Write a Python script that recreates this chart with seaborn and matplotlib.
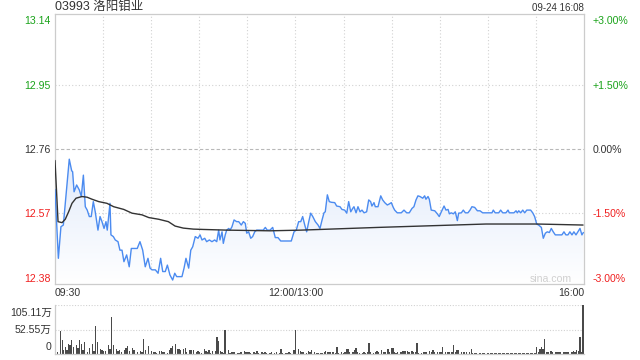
import numpy as np
import pandas as pd
import matplotlib
matplotlib.use("Agg")
import matplotlib.pyplot as plt
import seaborn as sns
from matplotlib.colors import LinearSegmentedColormap

# ---------------- data ----------------
title_text = "03993 洛阳钼业"
stamp_text = "09-24 16:08"
prev_close = 12.76

price_ticks = [13.14, 12.95, 12.76, 12.57, 12.38]
pct_labels = ["+3.00%", "+1.50%", "0.00%", "-1.50%", "-3.00%"]
x_tick_labels = ["09:30", "12:00/13:00", "16:00"]
vol_tick_labels = ["105.11万", "52.55万", "0"]
vol_ticks = [105.11, 52.55, 0]

# trading minutes since 09:30 (lunch break removed)
price_minutes = [0, 2.1, 3.7, 5.2, 8.9, 10.4, 11.0, 11.9, 13.5, 15.2, 16.4, 17.7, 18.9, 20.1, 21.4,
                 22.6, 23.9, 25.1, 26.8, 28.1, 29.3, 30.6, 31.8, 32.6, 34.3, 34.9, 36.4, 37.6, 39.3,
                 40.5, 41.8, 43.0, 44.7, 46.3, 47.6, 51.3, 53.0, 54.7, 56.3, 58.0, 59.3, 60.5, 62.6,
                 64.3, 65.9, 67.2, 68.8, 70.1, 71.7, 73.4, 74.7, 75.9, 79.2, 80.5, 81.7, 83.4, 84.7,
                 85.9, 87.5, 89.2, 90.5, 91.7, 93.4, 94.6, 96.3, 97.9, 99.6, 100.9, 102.1, 102.9,
                 104.2, 105.0, 106.2, 107.1, 108.4, 109.2, 110.4, 111.7, 113.3, 114.6, 116.2, 117.5,
                 118.7, 119.6, 120.8, 122.1, 123.3, 124.6, 125.8, 129.9, 131.2, 132.4, 134.1, 135.8,
                 137.4, 139.1, 140.8, 147.4, 149.1, 150.5, 152.0, 153.3, 154.5, 155.8, 157.0, 158.3,
                 159.5, 160.8, 162.4, 164.1, 165.3, 166.6, 167.8, 168.6, 169.9, 171.1, 172.4, 174.5,
                 175.7, 177.8, 179.0, 180.7, 182.0, 183.2, 184.5, 185.7, 186.5, 187.8, 189.0, 190.3,
                 191.5, 192.8, 194.4, 195.7, 196.9, 197.7, 199.0, 199.8, 201.5, 203.2, 204.4, 205.7,
                 207.3, 208.5, 209.8, 211.0, 211.9, 213.5, 216.0, 217.7, 219.4, 221.0, 222.7, 223.9,
                 225.2, 226.4, 227.7, 229.4, 230.6, 231.4, 232.7, 233.5, 234.7, 236.9, 238.5, 239.7,
                 241.0, 242.7, 243.9, 245.2, 246.0, 247.2, 248.5, 249.7, 251.0, 251.8, 253.5, 254.7,
                 256.0, 257.6, 258.9, 260.1, 261.8, 263.5, 265.1, 266.8, 272.6, 273.4, 274.6, 276.8,
                 278.0, 279.3, 281.3, 282.6, 283.4, 286.3, 287.6, 288.4, 289.3, 290.5, 291.8, 293.0,
                 294.3, 296.7, 298.0, 299.2, 300.5, 301.7, 303.4, 304.6, 305.9, 307.1, 308.4, 309.6,
                 310.8, 312.1, 316.2, 317.5, 318.7, 320.0, 321.2, 322.5, 323.7, 325.0, 326.2, 327.5,
                 328.7, 329.6]
price_values = [12.641, 12.438, 12.531, 12.536, 12.730, 12.696, 12.693, 12.634, 12.654, 12.639,
                12.620, 12.683, 12.590, 12.580, 12.561, 12.561, 12.605, 12.575, 12.521, 12.561,
                12.546, 12.526, 12.546, 12.521, 12.600, 12.507, 12.502, 12.492, 12.487, 12.462,
                12.462, 12.428, 12.448, 12.413, 12.467, 12.467, 12.487, 12.462, 12.413, 12.438,
                12.409, 12.404, 12.404, 12.394, 12.438, 12.399, 12.399, 12.418, 12.389, 12.374,
                12.394, 12.384, 12.384, 12.409, 12.438, 12.409, 12.462, 12.472, 12.502, 12.497,
                12.507, 12.492, 12.497, 12.487, 12.492, 12.487, 12.492, 12.487, 12.521, 12.492,
                12.516, 12.482, 12.507, 12.521, 12.526, 12.521, 12.531, 12.551, 12.546, 12.546,
                12.536, 12.546, 12.541, 12.512, 12.516, 12.497, 12.502, 12.516, 12.521, 12.521,
                12.529, 12.521, 12.521, 12.529, 12.499, 12.499, 12.489, 12.489, 12.516, 12.521,
                12.546, 12.546, 12.561, 12.536, 12.516, 12.546, 12.571, 12.561, 12.546, 12.536,
                12.526, 12.551, 12.572, 12.575, 12.625, 12.605, 12.603, 12.602, 12.592, 12.590,
                12.582, 12.580, 12.571, 12.605, 12.575, 12.585, 12.590, 12.572, 12.590, 12.575,
                12.580, 12.572, 12.575, 12.610, 12.605, 12.592, 12.602, 12.590, 12.590, 12.622,
                12.610, 12.602, 12.595, 12.598, 12.602, 12.588, 12.580, 12.572, 12.572, 12.580,
                12.572, 12.572, 12.585, 12.590, 12.610, 12.622, 12.620, 12.615, 12.622, 12.612,
                12.620, 12.612, 12.580, 12.578, 12.569, 12.561, 12.575, 12.592, 12.580, 12.582,
                12.569, 12.572, 12.569, 12.575, 12.549, 12.571, 12.572, 12.580, 12.572, 12.572,
                12.580, 12.590, 12.588, 12.578, 12.578, 12.572, 12.572, 12.580, 12.572, 12.572,
                12.580, 12.572, 12.572, 12.580, 12.572, 12.572, 12.578, 12.572, 12.578, 12.572,
                12.580, 12.572, 12.580, 12.580, 12.572, 12.561, 12.539, 12.536, 12.529, 12.497,
                12.512, 12.516, 12.514, 12.526, 12.516, 12.507, 12.507, 12.516, 12.507, 12.507,
                12.516, 12.507, 12.516, 12.507, 12.516, 12.526, 12.507, 12.514]

avg_minutes = [0, 1.9, 4.4, 6.4, 8.5, 10.6, 13.1, 16.8, 20.0, 23.1, 27.3, 32.4, 36.6, 42.9, 48.0,
               54.3, 58.5, 64.7, 70.7, 74.9, 80.0, 86.3, 92.5, 107.1, 134.1, 153.5, 201.5, 268.9,
               300.7, 329.4]
avg_values = [12.726, 12.546, 12.543, 12.553, 12.575, 12.600, 12.615, 12.620, 12.618, 12.612,
              12.605, 12.600, 12.590, 12.582, 12.571, 12.566, 12.558, 12.553, 12.546, 12.533,
              12.527, 12.524, 12.523, 12.521, 12.519, 12.521, 12.529, 12.539, 12.539, 12.536]

vol_minutes = [0, 1, 3, 4, 5, 6, 7, 8, 9, 10, 11, 13, 14, 15, 16, 17, 18, 20, 21, 23, 24, 25, 26,
               28, 29, 30, 31, 33, 34, 35, 36, 38, 39, 40, 41, 43, 44, 45, 46, 48, 49, 51, 53, 54,
               55, 56, 58, 60, 61, 62, 63, 65, 66, 67, 68, 70, 71, 72, 73, 75, 76, 77, 78, 80, 81,
               82, 84, 85, 86, 88, 89, 90, 91, 93, 94, 95, 96, 97, 98, 100, 101, 102, 103, 104,
               105, 106, 108, 109, 110, 111, 112, 114, 115, 116, 118, 119, 120, 121, 122, 124,
               125, 126, 127, 129, 130, 131, 132, 134, 135, 137, 138, 140, 141, 142, 144, 145,
               146, 147, 149, 150, 152, 153, 154, 155, 157, 158, 159, 160, 162, 163, 164, 166,
               167, 168, 169, 170, 171, 172, 173, 174, 175, 176, 177, 179, 180, 181, 182, 183,
               184, 186, 187, 188, 189, 190, 192, 193, 194, 195, 196, 197, 199, 200, 201, 202,
               204, 205, 206, 208, 209, 210, 211, 212, 213, 214, 216, 217, 218, 219, 220, 221,
               223, 224, 225, 226, 227, 229, 230, 231, 232, 234, 235, 236, 237, 239, 240, 241,
               242, 244, 245, 246, 248, 249, 250, 251, 252, 254, 255, 256, 257, 259, 260, 261,
               262, 263, 265, 266, 267, 268, 270, 271, 272, 273, 275, 276, 277, 278, 280, 281,
               282, 283, 285, 286, 287, 288, 290, 291, 292, 293, 295, 296, 297, 298, 300, 301,
               302, 303, 304, 305, 306, 307, 308, 310, 311, 313, 314, 315, 316, 318, 319, 320,
               321, 323, 324, 325, 326, 327, 328, 329, 330]
vol_values = [5.7, 4.3, 48.6, 29.3, 9.3, 15.0, 9.3, 22.2, 20.0, 30.7, 14.3, 20.0, 12.9, 29.3,
              22.2, 7.9, 26.5, 3.6, 12.2, 22.2, 5.7, 60.8, 26.5, 10.7, 9.3, 7.2, 5.7, 18.6, 10.7,
              78.7, 20.0, 11.4, 5.7, 9.3, 4.3, 9.3, 12.9, 17.9, 5.7, 12.9, 7.9, 4.3, 7.2, 4.3,
              32.9, 9.3, 17.9, 5.7, 4.3, 3.6, 2.1, 7.2, 5.7, 3.6, 4.3, 2.1, 9.3, 12.9, 16.4, 21.5,
              10.7, 11.4, 7.9, 11.4, 12.9, 3.6, 7.9, 9.3, 9.3, 3.6, 5.7, 4.3, 2.1, 10.7, 5.7, 3.6,
              9.3, 2.1, 7.2, 7.2, 35.8, 28.6, 5.7, 3.6, 2.1, 52.2, 9.3, 2.1, 3.6, 3.6, 4.3, 2.1,
              2.1, 3.6, 7.2, 3.6, 4.3, 4.3, 2.1, 4.3, 2.1, 5.7, 2.1, 3.6, 2.1, 3.6, 2.1, 2.1, 3.6,
              2.1, 3.6, 2.1, 10.7, 2.1, 2.1, 2.1, 3.6, 2.1, 9.3, 52.2, 10.7, 5.7, 3.6, 3.6, 2.1,
              5.7, 4.3, 9.3, 3.6, 2.1, 2.1, 2.1,
              2.9, 5.0, 7.2, 5.0, 3.6, 5.0, 3.6, 4.3, 2.9, 14.3, 2.9, 4.3, 2.9, 3.6, 10.0, 10.0,
              4.3, 5.0, 7.9, 12.2, 4.3, 2.9, 2.9, 3.6, 2.9, 4.3, 22.9, 4.3, 2.9, 3.6, 5.7, 4.3,
              8.6, 5.0, 3.6, 10.0, 4.3, 12.2, 12.2, 4.3, 2.9, 3.6, 4.3, 5.7, 7.2, 5.7, 7.2, 4.3,
              6.4, 4.3, 5.0, 22.9, 2.9, 2.9, 4.3, 3.6, 4.3, 7.2, 3.6, 8.6, 4.3, 5.0, 3.6, 4.3,
              14.3, 4.3, 3.6, 5.0, 3.6, 19.3, 5.0, 8.6, 8.6, 4.3, 5.0, 3.6, 4.3, 3.6, 10.0, 2.9,
              2.1, 1.4, 1.4, 1.4, 1.4, 1.4, 2.1, 2.9, 2.1, 1.4, 2.1, 1.4, 2.1, 1.4, 2.1, 1.4, 2.1,
              1.4, 1.4, 2.1, 1.4, 1.4, 2.1, 1.4, 1.4, 2.1, 1.4, 2.1, 1.4, 2.1, 2.1, 14.3, 5.0,
              10.0, 14.3, 10.0, 31.5, 4.3, 3.6, 6.4, 4.3, 3.6, 4.3, 3.6, 4.3, 4.3, 4.3, 4.3, 4.3,
              4.3, 6.4, 4.3, 8.6, 5.7, 36.5, 4.3, 105.1]

# ---------------- style ----------------
sns.set_theme(style="white")
plt.rcParams["font.family"] = ["Liberation Sans", "Noto Sans CJK SC", "DejaVu Sans"]

GREEN = "#1aa31a"
RED = "#f02020"
DARK = "#333333"
GRID = "#d2d2d2"
BLUE = "#4b8bf0"

W, H = 640, 360
fig = plt.figure(figsize=(6.4, 3.6), dpi=100)

def frac_box(x0, y0, x1, y1):
    return [x0 / W, 1 - y1 / H, (x1 - x0) / W, (y1 - y0) / H]

ax = fig.add_axes(frac_box(55, 14, 584, 284))
axv = fig.add_axes(frac_box(55, 305, 584, 354))

price_df = pd.DataFrame({"minute": price_minutes, "price": price_values})
avg_df = pd.DataFrame({"minute": avg_minutes, "avg": avg_values})
vol_df = pd.DataFrame({"minute": vol_minutes, "volume": vol_values})

ylo, yhi = 12.3623, 13.1577
ax.set_xlim(0, 330)
ax.set_ylim(ylo, yhi)

# gradient fill under price line
grad = np.linspace(1, 0, 256).reshape(-1, 1)
cmap = LinearSegmentedColormap.from_list("f", ["#ffffff", "#e2ebfb"])
top_p = max(price_values)
im = ax.imshow(grad, extent=[0, 330, ylo, top_p], aspect="auto", cmap=cmap,
               origin="upper", zorder=1)
poly = ax.fill_between(price_df["minute"], price_df["price"], ylo, color="none", lw=0)
clip = poly.get_paths()[0]
im.set_clip_path(clip, transform=ax.transData)

# grid
for gy in [12.95, 12.57]:
    ax.axhline(gy, color=GRID, lw=0.8, ls=(0, (1, 2)), zorder=0.5)
ax.axhline(prev_close, color="#b8b8b8", lw=0.8, ls=(0, (3, 2)), zorder=0.5)
for gx in range(30, 330, 30):
    ax.axvline(gx, color=GRID, lw=0.8, ls=(0, (1, 2)), zorder=0.5)

sns.lineplot(data=price_df, x="minute", y="price", ax=ax, color=BLUE, lw=1.0, zorder=3,
             estimator=None, sort=False)
sns.lineplot(data=avg_df, x="minute", y="avg", ax=ax, color=DARK, lw=1.0, zorder=4,
             estimator=None, sort=False)

for s in ax.spines.values():
    s.set_color("#cccccc")
    s.set_linewidth(0.9)

ax.set_xlabel("")
ax.set_ylabel("")
ax.set_xticks([])
ax.set_yticks(price_ticks)
ax.set_yticklabels([f"{v:.2f}" for v in price_ticks])
lab_colors = [GREEN, GREEN, DARK, RED, RED]
ax.tick_params(axis="y", length=0, pad=3, labelsize=7.6)
for t, c in zip(ax.get_yticklabels(), lab_colors):
    t.set_color(c)

axr = ax.twinx()
axr.set_ylim(ylo, yhi)
axr.set_yticks(price_ticks)
axr.set_yticklabels(pct_labels)
axr.tick_params(axis="y", length=0, pad=6, labelsize=7.6)
for t, c in zip(axr.get_yticklabels(), lab_colors):
    t.set_color(c)
for s in axr.spines.values():
    s.set_visible(False)
axr.grid(False)

# x labels
fs = 7.6
ax.text(0, -0.033, x_tick_labels[0], transform=ax.transAxes, ha="left", va="center",
        fontsize=fs, color=DARK)
ax.text(150 / 330, -0.033, x_tick_labels[1], transform=ax.transAxes, ha="center", va="center",
        fontsize=fs, color=DARK)
ax.text(1, -0.033, x_tick_labels[2], transform=ax.transAxes, ha="right", va="center",
        fontsize=fs, color=DARK)

ax.text((572 - 55) / 529, (284 - 279) / 270, "sina.com",
        transform=ax.transAxes, ha="right", va="center", fontsize=7.6, color="#d0d0d0")

# volume
axv.set_xlim(-0.5, 330.6)
axv.set_ylim(0, 105.11)
axv.bar(vol_df["minute"], vol_df["volume"], width=0.85, color="#4a4a4a", lw=0)
for gy in [52.55, 105.11]:
    axv.axhline(gy, color=GRID, lw=0.8, ls=(0, (1, 1.5)), zorder=0)
axv.set_xticks([])
axv.set_yticks([])
for k, s in axv.spines.items():
    s.set_visible(k in ("left", "bottom"))
    s.set_color("#cccccc")
    s.set_linewidth(0.9)
axv.text(-0.006, 0.95, vol_tick_labels[0], transform=axv.transAxes, ha="right", va="top",
         fontsize=fs, color=DARK)
axv.text(-0.006, 0.5, vol_tick_labels[1], transform=axv.transAxes, ha="right", va="center",
         fontsize=fs, color=DARK)
axv.text(-0.006, 0.04, vol_tick_labels[2], transform=axv.transAxes, ha="right", va="bottom",
         fontsize=fs, color=DARK)

# header
fig.text(55 / W, 1 - 7 / H, title_text, ha="left", va="center", fontsize=9, color=DARK)
fig.text(584 / W, 1 - 8 / H, stamp_text, ha="right", va="center", fontsize=7, color=DARK)

fig.savefig("out.png", dpi=100)
